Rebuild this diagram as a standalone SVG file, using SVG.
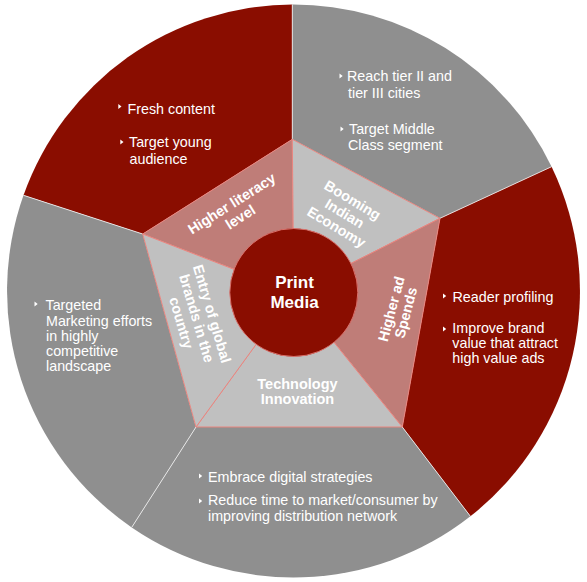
<svg xmlns="http://www.w3.org/2000/svg" width="587" height="582" viewBox="0 0 587 582">
<style>
.red{fill:#8A0D00}
.gray{fill:#8F8F8F}
.lg{fill:#C0C0C0;stroke:#E8857F;stroke-width:1}
.pk{fill:#BF7D78;stroke:#E8857F;stroke-width:1}
.div{stroke:#F0F0F0;stroke-width:1;opacity:0.85}
.t{font-family:"Liberation Sans",Arial,sans-serif;font-size:14.3px;fill:#FFFFFF}
.b{font-family:"Liberation Sans",Arial,sans-serif;font-size:14.5px;font-weight:bold;fill:#FFFFFF;text-anchor:middle}
.bul{fill:#FFFFFF}
</style>
<defs>
<polygon id="tri" points="0,-2.6 3.2,0 0,2.6"/>
</defs>

<g id="outer-top-left">
<path class="red" d="M23.5,195.3 A286.5,286.5 0 0 1 292.3,4.5 L292.3,139.3 L142.7,234 Z"/>
<use href="#tri" class="bul" x="118.3" y="106.5"/>
<text class="t" x="127.5" y="114">Fresh content</text>
<use href="#tri" class="bul" x="120.3" y="142"/>
<text class="t" y="147"><tspan x="129">Target young</tspan><tspan x="129.5" y="164">audience</tspan></text>
</g>

<g id="outer-top-right">
<path class="gray" d="M292.3,4.5 A286.5,286.5 0 0 1 551.6,166.7 L440,218.3 L292.3,139.3 Z"/>
<use href="#tri" class="bul" x="339.5" y="76"/>
<text class="t" y="81"><tspan x="347">Reach tier II and</tspan><tspan x="348" y="97.5">tier III cities</tspan></text>
<use href="#tri" class="bul" x="340.5" y="129"/>
<text class="t" y="133.5"><tspan x="349">Target Middle</tspan><tspan x="348" y="150">Class segment</tspan></text>
</g>

<g id="outer-right">
<path class="red" d="M551.6,166.7 A286.5,286.5 0 0 1 470.4,516.3 L402.3,427 L440,218.3 Z"/>
<use href="#tri" class="bul" x="443" y="296"/>
<text class="t" x="452.5" y="301.7">Reader profiling</text>
<use href="#tri" class="bul" x="443" y="329"/>
<text class="t" y="333.3"><tspan x="452.3">Improve brand</tspan><tspan x="452.3" y="348">value that attract</tspan><tspan x="452.3" y="363">high value ads</tspan></text>
</g>

<g id="outer-bottom">
<path class="gray" d="M470.4,516.3 A286.5,286.5 0 0 1 131.7,527.4 L196,427 L402.3,427 Z"/>
<use href="#tri" class="bul" x="199" y="476"/>
<text class="t" x="208" y="481.7">Embrace digital strategies</text>
<use href="#tri" class="bul" x="199" y="501"/>
<text class="t" y="505"><tspan x="208">Reduce time to market/consumer by</tspan><tspan x="208" y="520.5">improving distribution network</tspan></text>
</g>

<g id="outer-left">
<path class="gray" d="M131.7,527.4 A286.5,286.5 0 0 1 23.5,195.3 L142.7,234 L196,427 Z"/>
<use href="#tri" class="bul" x="34.5" y="304"/>
<text class="t" y="309.5"><tspan x="45.5">Targeted</tspan><tspan x="46" y="325.5">Marketing efforts</tspan><tspan x="46" y="341">in highly</tspan><tspan x="46" y="356">competitive</tspan><tspan x="46" y="371">landscape</tspan></text>
</g>

<g id="dividers">
<line class="div" x1="292.3" y1="4.5" x2="292.3" y2="139.3"/>
<line class="div" x1="551.6" y1="166.7" x2="440" y2="218.3"/>
<line class="div" x1="470.4" y1="516.3" x2="402.3" y2="427"/>
<line class="div" x1="131.7" y1="527.4" x2="196" y2="427"/>
<line class="div" x1="23.5" y1="195.3" x2="142.7" y2="234"/>
</g>

<g id="inner-literacy">
<polygon class="pk" points="142.7,234 292.3,139.3 293.8,292.5"/>
<text class="b" transform="translate(236,210.3) rotate(-32.5)"><tspan x="0" y="-3">Higher literacy</tspan><tspan x="0" y="13">level</tspan></text>
</g>

<g id="inner-economy">
<polygon class="lg" points="292.3,139.3 440,218.3 293.8,292.5"/>
<text class="b" transform="translate(344.5,213.5) rotate(31)"><tspan x="0" y="-10.7">Booming</tspan><tspan x="0" y="5">Indian</tspan><tspan x="0" y="20.7">Economy</tspan></text>
</g>

<g id="inner-adspends">
<polygon class="pk" points="440,218.3 402.3,427 293.8,292.5"/>
<text class="b" transform="translate(398.6,310.8) rotate(-75)"><tspan x="0" y="-2.5">Higher ad</tspan><tspan x="0" y="12.5">Spends</tspan></text>
</g>

<g id="inner-technology">
<polygon class="lg" points="402.3,427 196,427 293.8,292.5"/>
<text class="b"><tspan x="297.5" y="389">Technology</tspan><tspan x="297.5" y="404">Innovation</tspan></text>
</g>

<g id="inner-global">
<polygon class="lg" points="196,427 142.7,234 293.8,292.5"/>
<text class="b" transform="translate(196.7,318.3) rotate(73.5)"><tspan x="0" y="-11">Entry of global</tspan><tspan x="0" y="5">brands in the</tspan><tspan x="0" y="21">country</tspan></text>
</g>

<g id="center">
<circle cx="293.8" cy="292.5" r="64" fill="#8A0D00" stroke="#D9706A" stroke-width="1"/>
<text class="b" style="font-size:17px"><tspan x="294.5" y="288.3">Print</tspan><tspan x="294.5" y="308.3">Media</tspan></text>
</g>
</svg>
